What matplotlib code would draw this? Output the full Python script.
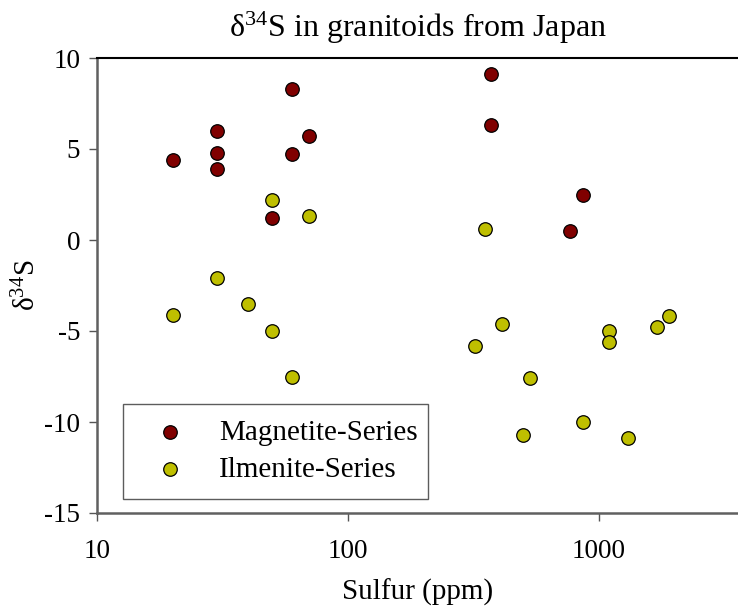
import numpy as np
import matplotlib
matplotlib.use('Agg')
import matplotlib.pyplot as plt

#data
mag_s = [60, 30, 70, 30, 20, 60, 30, 50, 370, 370, 860, 770]
mag_d34s = [8.3, 6.0, 5.7, 4.8, 4.4, 4.7, 3.9, 1.2, 9.1, 6.3, 2.5, 0.5]

ilm_s = [50, 70, 30, 40, 20, 50, 60, 350, 320, 410, 530, 500, 860,
         1100, 1100, 1300, 1700, 1900]
ilm_d34s = [2.2, 1.3, -2.1, -3.5, -4.1, -5.0, -7.5, 0.6, -5.8, -4.6, -7.6,
            -10.7, -10.0, -5.0, -5.6, -10.9, -4.8, -4.2]

xticks = [10, 100, 1000]
yticks = [-15, -10, -5, 0, 5, 10]

#settings
plt.rcParams['font.family'] = ['Liberation Serif', 'DejaVu Serif']
plt.rcParams['mathtext.fontset'] = 'custom'
plt.rcParams['mathtext.rm'] = 'Liberation Serif'
plt.rcParams['mathtext.it'] = 'Liberation Serif'
plt.rcParams['axes.unicode_minus'] = False
tick_font = 19.5
label_font = 21
title_font = 23

fig = plt.figure(figsize=(7.38, 6.07), dpi=100)
ax = fig.add_axes([97/738, 1-513/607, 1-97/738, (513-58)/607])

ax.scatter(mag_s, mag_d34s, s=95, c='#800000', edgecolors='black',
           linewidths=0.9, zorder=3, label='Magnetite-Series')
ax.scatter(ilm_s, ilm_d34s, s=95, c='#bfbf00', edgecolors='black',
           linewidths=0.9, zorder=3, label='Ilmenite-Series')

ax.set_xscale('log')
ax.set_xlim(10, 3580)
ax.set_ylim(-15, 10)
ax.set_xticks(xticks)
ax.set_xticklabels([str(t) for t in xticks])
ax.minorticks_off()
ax.set_yticks(yticks)
ax.set_yticklabels([str(t) for t in yticks])
ax.tick_params(axis='both', direction='out', length=6, width=1,
               labelsize=tick_font, color='#555555')
ax.tick_params(axis='x', pad=13)
ax.tick_params(axis='y', pad=6)

ax.spines['right'].set_visible(False)
ax.spines['left'].set_color('#606060')
ax.spines['left'].set_linewidth(1.8)
ax.spines['bottom'].set_color('#606060')
ax.spines['bottom'].set_linewidth(1.8)
ax.spines['top'].set_color('black')
ax.spines['top'].set_linewidth(1.5)

ax.set_xlabel('Sulfur (ppm)', fontsize=label_font, labelpad=10)
ax.set_ylabel('δ$^{34}$S', fontsize=label_font, labelpad=2)
ax.set_title('δ$^{34}$S in granitoids from Japan', fontsize=title_font, pad=15)

leg = ax.legend(loc='lower left', bbox_to_anchor=(26/641, 14/455, 305/641, 94/455),
                mode='expand', fontsize=label_font, frameon=True, fancybox=False,
                edgecolor='#333333', borderaxespad=0, handlelength=2.15,
                handletextpad=0.6, borderpad=0.55, labelspacing=0.36,
                markerscale=1.0)
leg.get_frame().set_linewidth(1.0)

fig.savefig('out.png', dpi=100)
